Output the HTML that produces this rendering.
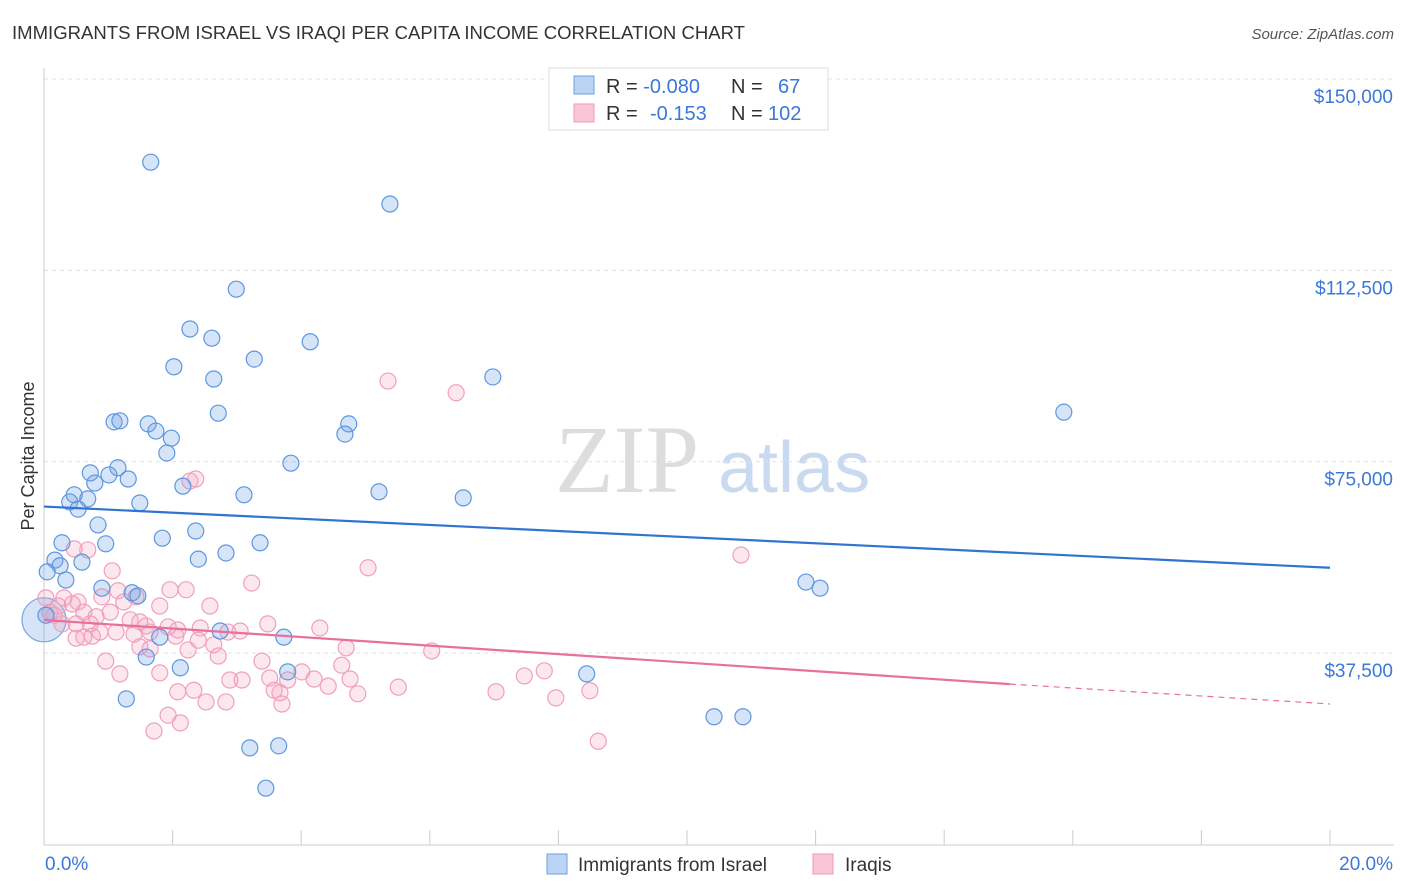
<!DOCTYPE html>
<html><head><meta charset="utf-8">
<style>
body{margin:0;background:#fff;font-family:"Liberation Sans",sans-serif;}
#wrap{position:relative;width:1406px;height:892px;overflow:hidden;}
</style></head>
<body>
<div id="wrap">
<svg id="chart" width="1406" height="892">
<text x="12" y="39" font-size="18" fill="#333" textLength="733" lengthAdjust="spacingAndGlyphs">IMMIGRANTS FROM ISRAEL VS IRAQI PER CAPITA INCOME CORRELATION CHART</text>
<text x="1394" y="39" font-size="15" fill="#555" text-anchor="end" font-style="italic">Source: ZipAtlas.com</text>
<text x="34" y="456" font-size="18" fill="#333" text-anchor="middle" transform="rotate(-90 34 456)">Per Capita Income</text>
<text x="555" y="492" font-size="96" fill="#ddd" font-family="Liberation Serif,serif">ZIP</text>
<text x="718" y="492" font-size="72" fill="#c9daf0">atlas</text>
<g id="grid"></g><g id="axes"></g><g id="pts"></g><g id="trend"></g>
<g>
<rect x="549" y="68" width="279" height="62" fill="#fff" stroke="#ddd"/>
<rect x="574" y="76" width="20" height="18" fill="#bcd4f4" stroke="#6a9fe0"/>
<rect x="574" y="104" width="20" height="18" fill="#f9c6d6" stroke="#ee9ab4"/>
<text x="606" y="93" font-size="20" fill="#333">R = <tspan fill="#3b78d8">-0.080</tspan><tspan x="731">N = </tspan><tspan x="778" fill="#3b78d8">67</tspan></text>
<text x="606" y="120" font-size="20" fill="#333">R = <tspan x="650" fill="#3b78d8">-0.153</tspan><tspan x="731">N = </tspan><tspan x="768" fill="#3b78d8">102</tspan></text>
</g>
<g>
<rect x="547" y="854" width="20" height="20" fill="#bcd4f4" stroke="#6a9fe0"/>
<text x="578" y="871" font-size="19" fill="#333">Immigrants from Israel</text>
<rect x="813" y="854" width="20" height="20" fill="#f9c6d6" stroke="#ee9ab4"/>
<text x="845" y="871" font-size="19" fill="#333">Iraqis</text>
</g>
</svg>
</div>
<script>
const yTicks=[37500,75000,112500,150000];
const yTickLabels=["$37,500","$75,000","$112,500","$150,000"];
const xTickLabels=["0.0%","20.0%"];
const blueX=[1.66,5.38,2.99,2.27,2.61,4.14,3.27,2.02,2.64,6.98,15.86,2.71,1.09,1.18,1.62,1.74,4.74,4.68,1.98,1.91,3.84,0.72,1.15,1.01,1.31,0.79,2.16,5.21,0.47,0.40,0.68,3.11,1.49,6.52,0.53,0.84,2.36,1.84,0.28,0.96,3.36,2.83,2.40,0.17,0.59,0.25,0.05,0.34,11.85,12.07,0.90,1.37,1.46,2.74,0.03,1.80,3.73,1.59,2.12,3.79,8.44,1.28,10.42,10.87,3.20,3.65,3.45];
const blueY=[133700,125500,108800,101000,99200,98500,95100,93600,91200,91600,84700,84500,82800,83000,82400,81000,82400,80400,79600,76700,74700,72800,73800,72400,71600,70800,70200,69100,68500,67100,67700,68500,66900,67900,65700,62600,61400,60000,59100,58900,59100,57100,55900,55700,55300,54600,53400,51800,51400,50200,50200,49300,48700,41800,44900,40600,40600,36700,34600,33800,33400,28500,25000,25000,18900,19300,11000];
const blueBigX=[0.0]; const blueBigY=[44000];
const pinkX=[5.35,6.41,2.36,2.27,10.84,0.47,0.68,5.04,1.06,3.23,1.96,2.21,1.15,0.90,1.43,0.03,0.31,0.53,0.44,0.22,2.58,1.24,1.80,1.03,0.09,0.16,0.62,0.81,1.34,1.49,0.28,0.50,0.72,1.59,1.93,2.08,2.43,3.48,4.29,0.87,1.12,1.40,1.65,2.05,0.62,0.75,2.86,3.05,0.50,2.40,2.64,1.49,1.65,2.24,4.70,6.03,2.71,3.39,0.96,4.63,4.01,1.80,1.18,2.89,3.08,3.51,3.79,4.20,4.76,4.42,7.47,7.78,5.51,7.03,2.08,2.33,3.58,3.67,4.88,7.96,8.49,2.52,2.83,3.70,1.93,2.12,1.71,8.62];
const pinkY=[90800,88500,71600,71200,56700,57900,57700,54200,53600,51200,49900,49900,49700,48500,48500,48300,48300,47500,47100,46700,46700,47500,46700,45500,45500,44900,45500,44600,44000,43600,43200,43200,43200,42800,42600,42000,42400,43200,42400,41600,41600,41200,41600,40800,40600,40800,41600,41800,40400,40000,39100,38700,38300,38100,38500,37900,36900,35900,35900,35100,33800,33600,33400,32200,32200,32600,32200,32400,32400,31000,33000,34000,30800,29900,29900,30200,30200,29700,29500,28700,30100,27900,27900,27500,25300,23800,22200,20200];
const blueTrendX=[0,20]; const blueTrendY=[66200,54200];
const pinkTrendX=[0,15.02,20]; const pinkTrendY=[43970,31400,27500];

const X0=44,X1=1330,YB=844.3,YT=79;
const sx=v=>X0+(v/20)*(X1-X0);
const sy=v=>YB-(v/150000)*(YB-YT);
const NS="http://www.w3.org/2000/svg";
function mk(tag,attrs,parent){const e=document.createElementNS(NS,tag);for(const k in attrs)e.setAttribute(k,attrs[k]);parent.appendChild(e);return e;}
const grid=document.getElementById('grid'),axes=document.getElementById('axes'),pts=document.getElementById('pts'),trend=document.getElementById('trend');
yTicks.forEach((t,i)=>{
  const l=mk('line',{x1:X0,x2:1394,y1:sy(t),y2:sy(t),stroke:'#e2e2e2','stroke-dasharray':'4 4'},grid);
  
  
  const tx=mk('text',{x:1393,y:sy(t)+24,'font-size':19,fill:'#3b78d8','text-anchor':'end'},axes);
  tx.textContent=yTickLabels[i];
  
  
});
mk('line',{x1:X0,x2:X0,y1:68,y2:845,stroke:'#ccc'},axes);
mk('line',{x1:X0,x2:1394,y1:845,y2:845,stroke:'#ccc'},axes);
for(let i=0;i<=10;i++){const x=sx(i*2);const t=mk('line',{x1:x,x2:x,y1:830,y2:845,stroke:'#ccc'},axes);
  
  }
[[0,'start',45],[20,'end',1393]].forEach((d,i)=>{const t=mk('text',{x:d[2],y:870,'font-size':19,fill:'#3b78d8','text-anchor':d[1]},axes);t.textContent=xTickLabels[i];
  
  });
function dots(xs,ys,fill,stroke,r,name){xs.forEach((v,i)=>{const c=mk('circle',{cx:sx(v),cy:sy(ys[i]),r:r,fill:fill,stroke:stroke,'stroke-width':1.2},pts);
  
  });}
dots(blueBigX,blueBigY,'rgba(120,165,230,0.3)','#7aa8e6',22,'israel-point-large');
dots(pinkX,pinkY,'rgba(245,160,190,0.25)','#f0a0ba',8,'iraqi-point');
dots(blueX,blueY,'rgba(120,165,230,0.3)','#5d97df',8,'israel-point');
const bl=mk('line',{x1:sx(blueTrendX[0]),y1:sy(blueTrendY[0]),x2:sx(blueTrendX[1]),y2:sy(blueTrendY[1]),stroke:'#2f74d0','stroke-width':2.2},trend);


const pl=mk('line',{x1:sx(pinkTrendX[0]),y1:sy(pinkTrendY[0]),x2:sx(pinkTrendX[1]),y2:sy(pinkTrendY[1]),stroke:'#e8709a','stroke-width':2.2},trend);


const pd=mk('line',{x1:sx(pinkTrendX[1]),y1:sy(pinkTrendY[1]),x2:sx(pinkTrendX[2]),y2:sy(pinkTrendY[2]),stroke:'#e8709a','stroke-width':1.2,'stroke-dasharray':'6 5'},trend);


</script>
</body></html>
